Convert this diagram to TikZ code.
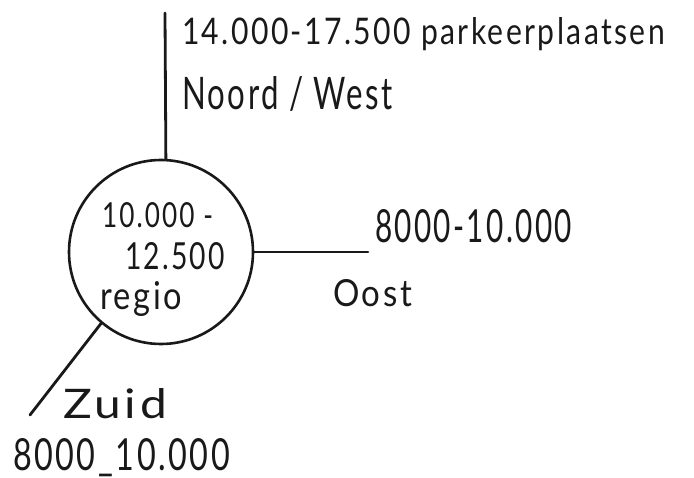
\documentclass[tikz,border=0pt]{standalone}
\usepackage{fontspec}
\setmainfont{Lato}[LetterSpace=8]
\usepackage{graphicx}
% set a label to a given width and height (in pt)
\newcommand{\hand}[3]{\resizebox{#1pt}{#2pt}{#3}}
\begin{document}
\begin{tikzpicture}[x=1pt,y=-1pt,
  lbl/.style={anchor=base west, inner sep=0pt, outer sep=0pt, text=black!90},
  stroke/.style={line width=2.8pt, line cap=round, draw=black!90}]
\useasboundingbox (0,0) rectangle (694,478);
\fill[white] (0,0) rectangle (694,478);

% central region
\node[circle, draw=black!90, line width=2.6pt, minimum size=184pt, inner sep=0pt] (c) at (161,252) {};
\node[lbl] (c1) at (102,228) {\hand{111}{25}{10.000 -}};
\node[lbl] (c2) at (125,270) {\hand{100}{27}{12.500}};
\node[lbl] (c3) at (100,310) {\hand{82}{28}{regio}};

% branch end points
\coordinate (ntip) at (165,13);
\coordinate (etip) at (368,252);
\coordinate (stip) at (30,415);

\draw[stroke] (c.87) -- (ntip);
\draw[stroke] (c.east) -- (etip);
\draw[stroke] (c.230) -- (stip);

% north / west
\node[lbl] (nnum) at (182,45) {\hand{483}{27}{14.000-17.500 parkeerplaatsen}};
\node[lbl] (nname) at (182,110) {\hand{211}{33}{Noord / West}};

% east
\node[lbl] (enum) at (375,243) {\hand{197}{33}{8000-10.000}};
\node[lbl] (ename) at (333,307) {\hand{79}{27}{Oost}};

% south
\node[lbl] (sname) at (63,418) {\hand{104}{30}{Zuid}};
\node[lbl] (snum) at (13,470) {\hand{217}{32}{8000\_10.000}};
\end{tikzpicture}
\end{document}
